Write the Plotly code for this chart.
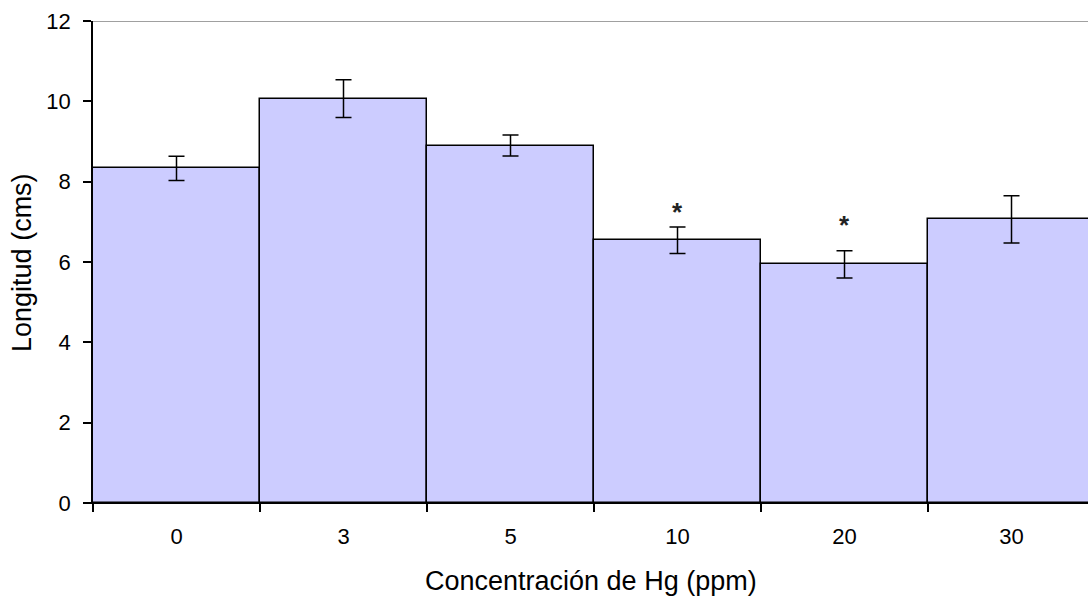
import plotly.graph_objects as go

categorias = ["0", "3", "5", "10", "20", "30"]
longitud = [8.33, 10.07, 8.90, 6.54, 5.94, 7.06]
error = [0.30, 0.47, 0.26, 0.33, 0.34, 0.59]
marca_cat = ["10", "20"]
marca_y = [7.35, 7.02]
yticks = [0, 2, 4, 6, 8, 10, 12]

FONT = "Liberation Sans, Arial, sans-serif"

fig = go.Figure()
fig.add_trace(go.Bar(
    x=categorias, y=longitud,
    marker=dict(color="#CCCCFF", line=dict(color="black", width=1.5)),
    error_y=dict(type="data", array=error, visible=True, color="black", thickness=1.5, width=8),
    width=1.0,
))

for c, yv in zip(marca_cat, marca_y):
    fig.add_annotation(x=categorias.index(c), y=yv, xref="x", yref="y", text="<b>*</b>", showarrow=False,
                       font=dict(family=FONT, size=26, color="#222222"), yshift=-4)

fig.add_annotation(xref="paper", yref="paper", x=0.5, y=-0.162, text="Concentración de Hg (ppm)",
                   showarrow=False, xanchor="center", yanchor="middle",
                   font=dict(family=FONT, size=27, color="black"))
fig.add_annotation(xref="paper", yref="paper", x=-0.0714, y=0.5, text="Longitud (cms)",
                   showarrow=False, xanchor="center", yanchor="middle", textangle=-90,
                   font=dict(family=FONT, size=27, color="black"))

fig.add_shape(type="line", xref="paper", yref="y", x0=0, x1=1, y0=12, y1=12,
              line=dict(color="#808080", width=1.5))

fig.update_layout(
    width=1088, height=598,
    margin=dict(l=93, r=0, t=21, b=95),
    paper_bgcolor="white", plot_bgcolor="white",
    showlegend=False, bargap=0,
    font=dict(family=FONT, size=22, color="black"),
)
fig.update_xaxes(type="category", range=[-0.5, 5.458], tickson="boundaries",
                 ticks="outside", ticklen=8, tickwidth=1.5, tickcolor="black",
                 showline=True, linecolor="black", linewidth=1, showgrid=False,
                 ticklabelstandoff=14, tickfont=dict(family=FONT, size=22, color="black"))
fig.update_yaxes(range=[0, 12], tickvals=yticks, ticks="outside", ticklen=8, tickwidth=1.5,
                 tickcolor="black", showline=True, linecolor="black", linewidth=1.5,
                 showgrid=False, zeroline=False, ticklabelstandoff=8,
                 tickfont=dict(family=FONT, size=22, color="black"))

fig.write_html("out.html")
